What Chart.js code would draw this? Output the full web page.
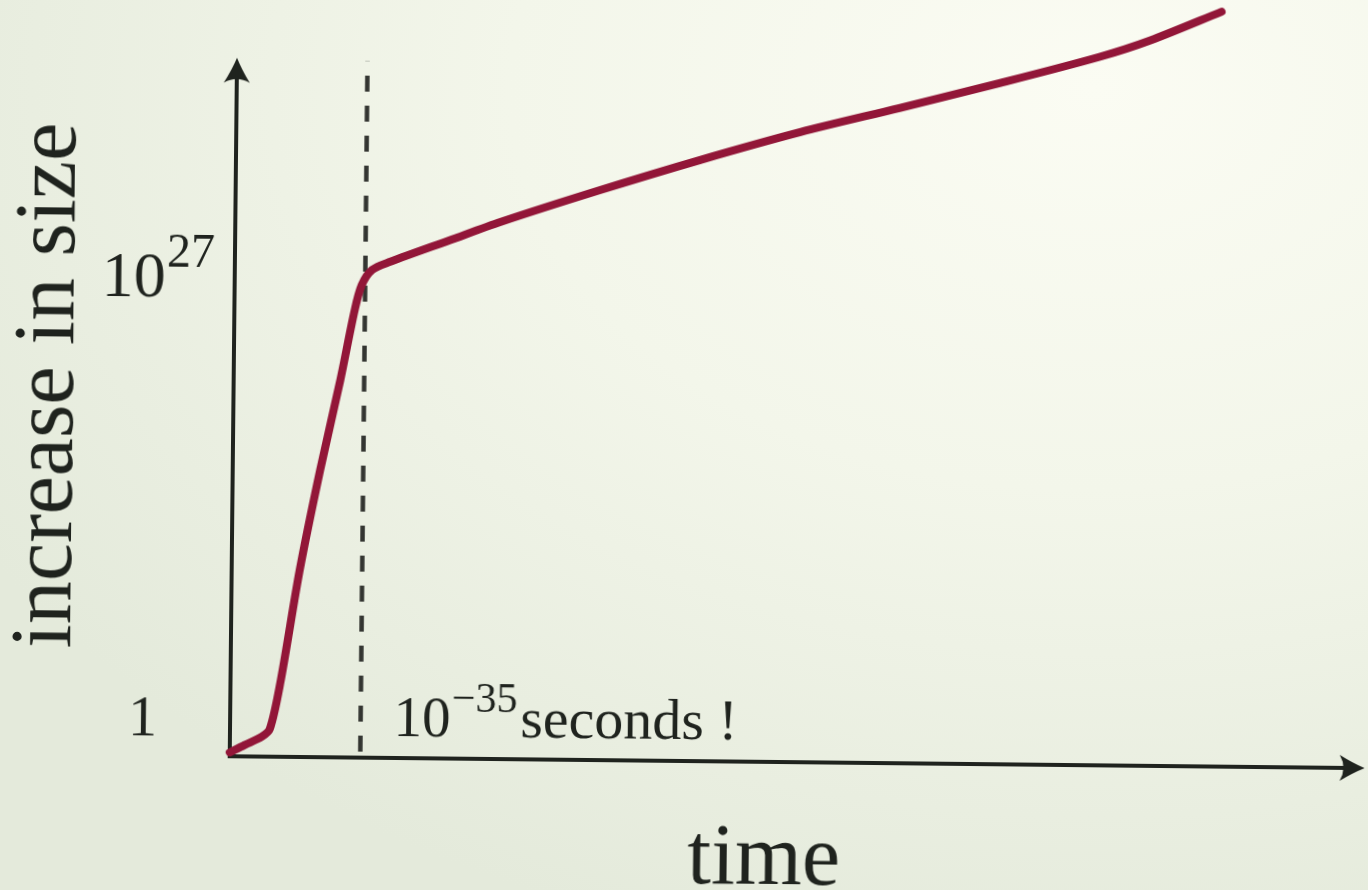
<!DOCTYPE html>
<html>
<head>
<meta charset="utf-8">
<script src="https://cdn.jsdelivr.net/npm/chart.js@4.4.1/dist/chart.umd.min.js"></script>
<style>
  html, body { margin: 0; padding: 0; width: 1368px; height: 890px; overflow: hidden; }
  body { background: radial-gradient(ellipse 95% 100% at 80% 10%, #fbfcf3 0%, #f3f6ea 45%, #e4eadb 100%); }
  #wrap { position: absolute; left: 0; top: 0; width: 1368px; height: 890px; transform: rotate(0.6deg); transform-origin: 684px 445px; }
  canvas { display: block; }
</style>
</head>
<body>
<div id="wrap"><canvas id="c" width="1368" height="890"></canvas></div>
<script>
// ---- data (arbitrary linear units, 0..100) ----
const timeVals = [0, 1.3, 2.8, 3.5, 4.4, 6.0, 7.7, 9.4, 10.6, 11.2, 12.1, 13.7, 18.9, 23.4, 32.1, 40.9, 49.7, 58.4, 67.2, 76.0, 80.4, 86.7];
const sizeVals = [0.5, 1.5, 2.6, 3.6, 9.8, 24.6, 37.7, 49.6, 58.8, 62.1, 64.1, 65.2, 68.1, 70.6, 74.9, 79.0, 82.8, 86.1, 89.5, 93.1, 95.3, 99.2];
const inflationEnd = 11.5;          // time of the dashed marker
const markerRange = [0.8, 91.5];    // vertical extent of the dashed marker
const tickValues = [5.1, 63.1];
const tickBase = ['1', '10'];
const tickSup = ['', '27'];
const xTitle = 'time';
const yTitle = 'increase in size';
const noteBase = '10';
const noteSup = '\u221235';
const noteText = 'seconds !';
const yAxisTop = 91.8;

const INK = '#1f231e';
const SERIF = '"Liberation Serif", "DejaVu Serif", serif';

function arrowHead(ctx, tx, ty, angle, len, half) {
  ctx.save();
  ctx.translate(tx, ty);
  ctx.rotate(angle);
  ctx.beginPath();
  ctx.moveTo(0, 0);
  ctx.quadraticCurveTo(-len * 0.45, -half * 0.35, -len, -half);
  ctx.quadraticCurveTo(-len * 0.7, 0, -len, half);
  ctx.quadraticCurveTo(-len * 0.45, half * 0.35, 0, 0);
  ctx.closePath();
  ctx.fillStyle = INK;
  ctx.fill();
  ctx.restore();
}

function supText(ctx, base, sup, x, y, bf, sf, rise) {
  ctx.font = bf;
  ctx.textAlign = 'left';
  ctx.textBaseline = 'alphabetic';
  ctx.fillText(base, x, y);
  let w = ctx.measureText(base).width;
  if (sup) {
    ctx.font = sf;
    ctx.fillText(sup, x + w + 1, y - rise);
    w += ctx.measureText(sup).width + 1;
  }
  return x + w;
}

const decor = {
  id: 'decor',
  beforeDatasetsDraw(chart) {
    const ctx = chart.ctx;
    const xs = chart.scales.x, ys = chart.scales.y;
    const x0 = xs.getPixelForValue(0), y0 = ys.getPixelForValue(0);
    const yTop = ys.getPixelForValue(yAxisTop);
    const xRight = xs.getPixelForValue(100);
    ctx.save();
    ctx.strokeStyle = INK;
    ctx.lineWidth = 4;
    ctx.lineCap = 'butt';
    ctx.beginPath();
    ctx.moveTo(x0, y0 + 2);
    ctx.lineTo(x0, yTop + 14);
    ctx.moveTo(x0 - 2, y0);
    ctx.lineTo(xRight - 14, y0);
    ctx.stroke();
    arrowHead(ctx, x0, yTop, -Math.PI / 2, 25, 13);
    arrowHead(ctx, xRight, y0, 0, 25, 13);

    ctx.fillStyle = INK;
    // tick labels
    const tickLeft = [131, 100];
    const tickFont = [58, 64];
    for (let i = 0; i < tickValues.length; i++) {
      const py = ys.getPixelForValue(tickValues[i]) + tickFont[i] * 0.33;
      supText(ctx, tickBase[i], tickSup[i], tickLeft[i], py,
        tickFont[i] + 'px ' + SERIF, Math.round(tickFont[i] * 0.75) + 'px ' + SERIF, tickFont[i] * 0.47);
    }
    // note next to dashed line
    const nx = xs.getPixelForValue(inflationEnd) + 33;
    const ny = y0 - 22;
    const end = supText(ctx, noteBase, noteSup, nx, ny, '57px ' + SERIF, '42px ' + SERIF, 25);
    ctx.font = '58px ' + SERIF;
    ctx.fillText(noteText, end + 3, ny);

    // axis titles
    ctx.font = '86px ' + SERIF;
    ctx.textAlign = 'center';
    ctx.textBaseline = 'alphabetic';
    ctx.fillText(xTitle, 768, 883);
    ctx.save();
    ctx.translate(72, 392);
    ctx.rotate(-Math.PI / 2);
    ctx.fillText(yTitle, 0, 0);
    ctx.restore();
    ctx.restore();
  }
};

const curve = timeVals.map((t, i) => ({ x: t, y: sizeVals[i] }));
const marker = markerRange.map(v => ({ x: inflationEnd, y: v }));

new Chart(document.getElementById('c'), {
  type: 'line',
  data: {
    datasets: [
      {
        label: 'size',
        data: curve,
        borderColor: '#921638',
        borderWidth: 8,
        pointRadius: 0,
        tension: 0.3,
        borderCapStyle: 'round',
        borderJoinStyle: 'round',
        clip: false,
        order: 0
      },
      {
        label: 'marker',
        data: marker,
        borderColor: '#333531',
        borderWidth: 4.5,
        borderDash: [16, 14],
        pointRadius: 0,
        clip: false,
        order: 1
      }
    ]
  },
  options: {
    responsive: false,
    animation: false,
    events: [],
    layout: { padding: { left: 233, top: 0, right: 0, bottom: 129 } },
    plugins: { legend: { display: false }, tooltip: { enabled: false } },
    scales: {
      x: { type: 'linear', min: 0, max: 100, display: false },
      y: { type: 'linear', min: 0, max: 100, display: false }
    }
  },
  plugins: [decor]
});
</script>
</body>
</html>
